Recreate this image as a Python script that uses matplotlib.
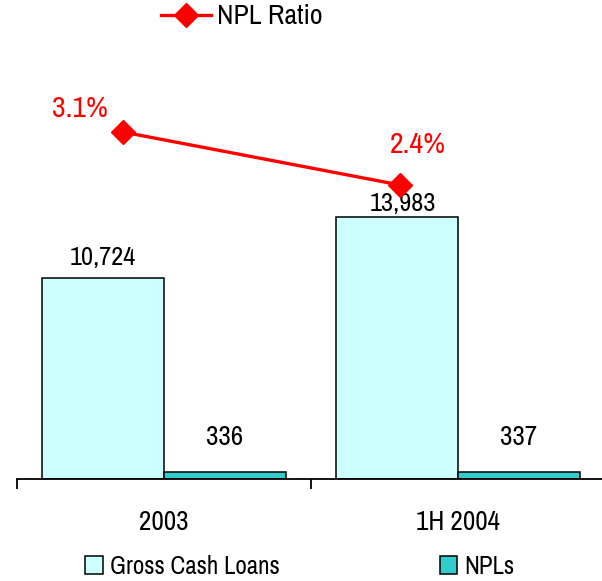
import matplotlib
matplotlib.use("Agg")
import matplotlib.pyplot as plt
from matplotlib.lines import Line2D
from matplotlib.patches import Patch
import numpy as np

plt.rcParams['font.family'] = ['Archivo Narrow', 'Liberation Sans Narrow', 'DejaVu Sans']

# data
periods = ["2003", "1H 2004"]
gross_cash_loans = [10724, 13983]
npls = [336, 337]
npl_ratio = [3.1, 2.4]

GROSS_COLOR = "#CCFFFF"
NPL_COLOR = "#33CCCC"
RATIO_COLOR = "#FF0000"
FS = 19

W, H = 602, 581
fig = plt.figure(figsize=(W / 100, H / 100), dpi=100)

# axes box in pixels: left 17, right 605, baseline 478.5, top 60
left, right, base, top = 17, 605, 478.5, 60
ax = fig.add_axes([left / W, (H - base) / H, (right - left) / W, (base - top) / H])

x = np.arange(len(periods))
bw = 0.415
b1 = ax.bar(x - bw / 2, gross_cash_loans, bw, color=GROSS_COLOR, edgecolor="black", linewidth=1.1)
b2 = ax.bar(x + bw / 2, npls, bw, color=NPL_COLOR, edgecolor="black", linewidth=1.1)

ax.set_xlim(-0.5, 1.5)
ax.set_ylim(0, (base - top) / 0.01872)

gross_offsets = [(0, 6), (4, 1)]
for rect, v, off in zip(b1, gross_cash_loans, gross_offsets):
    ax.annotate(f"{v:,}", (rect.get_x() + rect.get_width() / 2, v), xytext=off,
                textcoords="offset points", ha="center", va="bottom", fontsize=FS)
for rect, v in zip(b2, npls):
    ax.annotate(f"{v:,}", (rect.get_x() + rect.get_width() / 2, v), xytext=(0, 16),
                textcoords="offset points", ha="center", va="bottom", fontsize=FS + 0.5)

for s in ["top", "left", "right"]:
    ax.spines[s].set_visible(False)
ax.spines["bottom"].set_linewidth(1.3)
ax.set_yticks([])
ax.set_xticks(x)
ax.set_xticklabels(periods, fontsize=FS + 0.5)
ax.tick_params(axis="x", which="major", length=0, pad=23)
ax.set_xticks([-0.5, 0.5, 1.5], minor=True)
ax.tick_params(axis="x", which="minor", length=7, width=1.3, direction="out")

# NPL ratio on a secondary scale
ax2 = ax.twinx()
ax2.set_ylim(-1.477, 4.051)
ax2.axis("off")
line_shift = [-0.14, -0.197]
lx = x + np.array(line_shift)
ax2.plot(lx, npl_ratio, color=RATIO_COLOR, lw=2.4, marker="D", markersize=12, clip_on=False)
label_offsets = [(-31, 17), (13, 29)]
for xi, v, off in zip(lx, npl_ratio, label_offsets):
    ax2.annotate(f"{v}%", (xi, v), xytext=off, textcoords="offset points",
                 ha="center", va="center", color=RATIO_COLOR, fontsize=21.5)

# legends
top_handle = [Line2D([], [], color=RATIO_COLOR, lw=2.4, marker="D", markersize=12)]
fig.legend(top_handle, ["NPL Ratio"], loc="center left", bbox_to_anchor=(161 / W, 1 - 17 / H),
           frameon=False, fontsize=20, handlelength=1.8, handletextpad=0.2,
           borderpad=0, borderaxespad=0)

bar_handles = [Patch(facecolor=GROSS_COLOR, edgecolor="black", lw=1.1),
               Patch(facecolor=NPL_COLOR, edgecolor="black", lw=1.1)]
fig.legend(bar_handles, ["Gross Cash Loans", "NPLs"], loc="center left",
           bbox_to_anchor=(85 / W, 1 - 566 / H), ncol=2, frameon=False, fontsize=18,
           handlelength=0.7, handleheight=0.7, handletextpad=0.3, columnspacing=6.4,
           borderpad=0, borderaxespad=0)

fig.savefig("out.png", dpi=100)
